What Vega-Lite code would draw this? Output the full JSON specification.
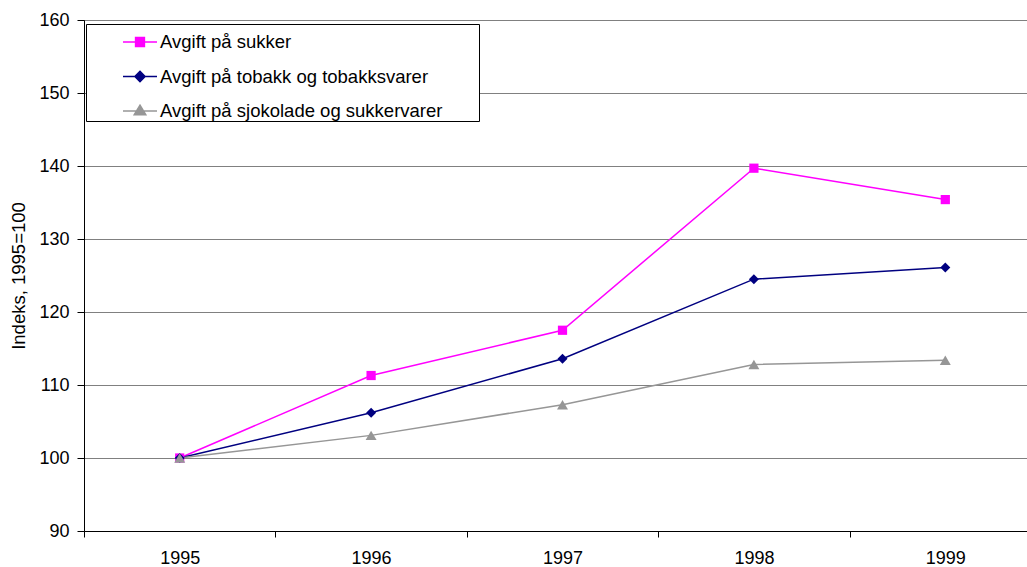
{
  "$schema": "https://vega.github.io/schema/vega-lite/v6.json",
  "width": 943,
  "height": 511,
  "autosize": {"type": "none"},
  "padding": {"left": 84, "top": 20, "right": 0, "bottom": 36},
  "background": "white",
  "config": {
    "view": {"stroke": null},
    "font": "Liberation Sans",
    "axis": {"labelFont": "Liberation Sans", "titleFont": "Liberation Sans", "labelColor": "black", "titleColor": "black", "domainColor": "black", "tickColor": "black"}
  },
  "data": {
    "values": [
      {"year": "1995", "series": "Avgift på sukker", "value": 100},
      {"year": "1996", "series": "Avgift på sukker", "value": 111.3},
      {"year": "1997", "series": "Avgift på sukker", "value": 117.5},
      {"year": "1998", "series": "Avgift på sukker", "value": 139.7},
      {"year": "1999", "series": "Avgift på sukker", "value": 135.4},
      {"year": "1995", "series": "Avgift på tobakk og tobakksvarer", "value": 100},
      {"year": "1996", "series": "Avgift på tobakk og tobakksvarer", "value": 106.2},
      {"year": "1997", "series": "Avgift på tobakk og tobakksvarer", "value": 113.6},
      {"year": "1998", "series": "Avgift på tobakk og tobakksvarer", "value": 124.5},
      {"year": "1999", "series": "Avgift på tobakk og tobakksvarer", "value": 126.1},
      {"year": "1995", "series": "Avgift på sjokolade og sukkervarer", "value": 100},
      {"year": "1996", "series": "Avgift på sjokolade og sukkervarer", "value": 103.1},
      {"year": "1997", "series": "Avgift på sjokolade og sukkervarer", "value": 107.3},
      {"year": "1998", "series": "Avgift på sjokolade og sukkervarer", "value": 112.8},
      {"year": "1999", "series": "Avgift på sjokolade og sukkervarer", "value": 113.4}
    ]
  },
  "encoding": {
    "x": {
      "field": "year", "type": "ordinal",
      "scale": {"type": "band", "range": [0, 957], "paddingInner": 0, "paddingOuter": 0},
      "axis": {"title": null, "labelAngle": 0, "labelFontSize": 18, "labelPadding": 12, "tickSize": 6, "tickBand": "extent", "domainWidth": 1, "tickWidth": 1, "grid": false}
    },
    "y": {
      "field": "value", "type": "quantitative",
      "scale": {"domain": [90, 160], "nice": false, "zero": false},
      "axis": {"title": "Indeks, 1995=100", "titleFontSize": 18.5, "titleFontWeight": "normal", "titlePadding": 10, "values": [90, 100, 110, 120, 130, 140, 150, 160], "labelFontSize": 18, "labelPadding": 8, "tickSize": 7, "grid": true, "gridColor": "black", "gridDash": [1, 1], "gridWidth": 1, "gridOpacity": 1}
    }
  },
  "layer": [
    {
      "mark": {"type": "line", "strokeWidth": 1.5},
      "encoding": {
        "color": {
          "field": "series", "type": "nominal",
          "scale": {"domain": ["Avgift på sukker", "Avgift på tobakk og tobakksvarer", "Avgift på sjokolade og sukkervarer"], "range": ["#FF00FF", "#000080", "#969696"]},
          "legend": {
            "title": null, "orient": "none", "legendX": 2, "legendY": 4,
            "strokeColor": "black", "fillColor": "white", "padding": 0,
            "symbolSize": 1156, "symbolOffset": 36, "labelOffset": 2, "rowPadding": 6.5,
            "labelFont": "Liberation Sans", "labelFontSize": 18.5, "labelColor": "black",
            "labelLimit": 600,
            "labelExpr": "datum.label + '\u00a0\u00a0\u00a0\u00a0\u00a0\u00a0\u00a0\u200b'",
            "encode": {
              "symbols": {
                "update": {
                  "shape": {"signal": "datum.value == 'Avgift på sukker' ? 'M-1,0H1M-0.26,-0.26H0.26V0.26H-0.26Z' : datum.value == 'Avgift på tobakk og tobakksvarer' ? 'M-1,0H1M0,-0.3L0.3,0L0,0.3L-0.3,0Z' : 'M-1,0H1M0,-0.34L0.34,0.22H-0.34Z'"},
                  "fill": {"signal": "scale('color', datum.value)"},
                  "stroke": {"signal": "scale('color', datum.value)"},
                  "strokeWidth": {"value": 1.5},
                  "opacity": {"value": 1}
                }
              }
            }
          }
        }
      }
    },
    {
      "transform": [{"filter": "datum.series == 'Avgift på sukker'"}],
      "mark": {"type": "point", "filled": true, "opacity": 1, "shape": "square", "size": 85, "color": "#FF00FF"}
    },
    {
      "transform": [{"filter": "datum.series == 'Avgift på tobakk og tobakksvarer'"}],
      "mark": {"type": "point", "filled": true, "opacity": 1, "shape": "diamond", "size": 100, "color": "#000080"}
    },
    {
      "transform": [{"filter": "datum.series == 'Avgift på sjokolade og sukkervarer'"}],
      "mark": {"type": "point", "filled": true, "opacity": 1, "shape": "triangle-up", "size": 120, "color": "#969696"}
    }
  ]
}
